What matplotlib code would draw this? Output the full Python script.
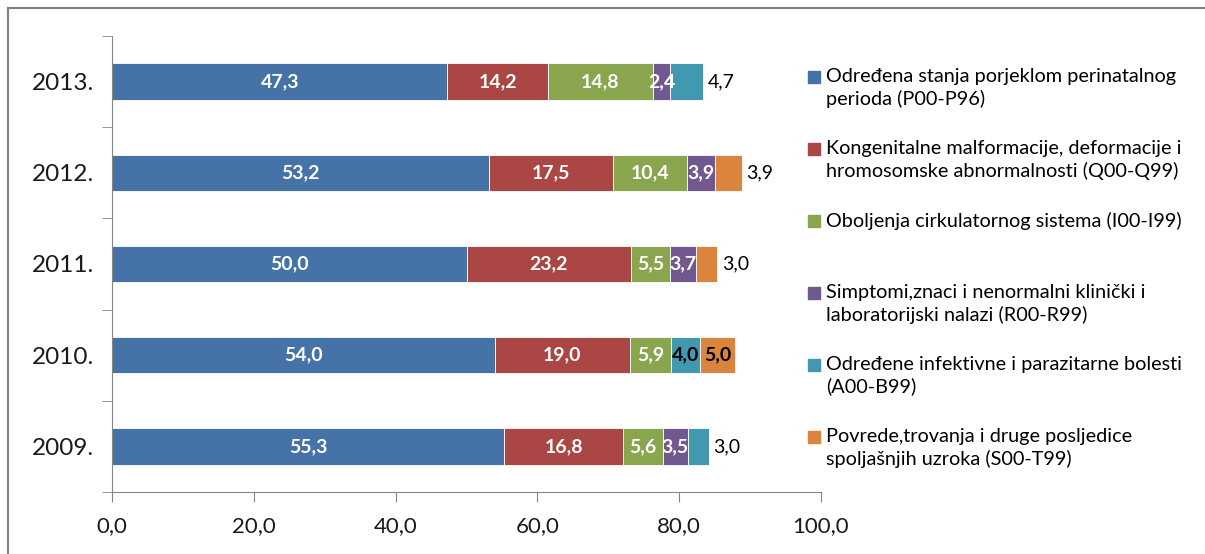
import matplotlib.pyplot as plt
from matplotlib.lines import Line2D
from matplotlib.patches import Rectangle
import numpy as np

years = ["2009.", "2010.", "2011.", "2012.", "2013."]
series_names = [
    "Određena stanja porjeklom perinatalnog\nperioda (P00-P96)",
    "Kongenitalne malformacije, deformacije i\nhromosomske abnormalnosti (Q00-Q99)",
    "Oboljenja cirkulatornog sistema (I00-I99)",
    "Simptomi,znaci i nenormalni klinički i\nlaboratorijski nalazi (R00-R99)",
    "Određene infektivne i parazitarne bolesti\n(A00-B99)",
    "Povrede,trovanja i druge posljedice\nspoljašnjih uzroka (S00-T99)",
]
# values per series, years ordered 2009..2013
perinatal = [55.3, 54.0, 50.0, 53.2, 47.3]
kongenitalne = [16.8, 19.0, 23.2, 17.5, 14.2]
cirkulatorni = [5.6, 5.9, 5.5, 10.4, 14.8]
simptomi = [3.5, 0.0, 3.7, 3.9, 2.4]
infektivne = [3.0, 4.0, 0.0, 0.0, 4.7]
povrede = [0.0, 5.0, 3.0, 3.9, 0.0]
x_ticks = [0, 20, 40, 60, 80, 100]

colors = ["#4572A7", "#AA4643", "#89A54E", "#71588F", "#4198AF", "#DB843D"]
# style: which labels sit outside the bar, which are drawn dark
outside = {(0, 4), (2, 5), (3, 5), (4, 4)}
dark_inside = {(1, 4), (1, 5)}

plt.rcParams["font.family"] = ["Lato", "DejaVu Sans"]

fig = plt.figure(figsize=(12.05, 5.54), dpi=100)
ax = fig.add_axes([112 / 1205, 1 - 492 / 554, (821 - 112) / 1205, (492 - 36) / 554])

data = [perinatal, kongenitalne, cirkulatorni, simptomi, infektivne, povrede]
y = np.arange(len(years))
left = np.zeros(len(years))
for s, vals in enumerate(data):
    vals = np.array(vals)
    ax.barh(y, vals, left=left, height=0.4, color=colors[s], edgecolor="white", linewidth=0.6)
    for i, v in enumerate(vals):
        if v <= 0:
            continue
        lbl = f"{v:.1f}".replace(".", ",")
        if (i, s) in outside:
            ax.annotate(lbl, (left[i] + v, y[i]), xytext=(3, 0), textcoords="offset points",
                        ha="left", va="center", fontsize=14, color="black")
        else:
            c = "black" if (i, s) in dark_inside else "white"
            ax.text(left[i] + v / 2, y[i], lbl, ha="center", va="center",
                    fontsize=14, color=c, fontweight="bold")
    left += vals

ax.set_xlim(0, 100)
ax.set_ylim(-0.5, len(years) - 0.5)
ax.set_xticks(x_ticks)
ax.set_xticklabels([f"{t:.1f}".replace(".", ",") for t in x_ticks], fontsize=16, color="#1a1a1a")
ax.set_yticks(y)
ax.set_yticklabels(years, fontsize=17.5, color="#1a1a1a")
ax.set_yticks(np.arange(-0.5, len(years)), minor=True)
ax.tick_params(axis="y", which="major", length=0, pad=13)
ax.tick_params(axis="y", which="minor", length=7, color="#868686")
ax.tick_params(axis="x", length=7, color="#868686", pad=10)
for side in ["top", "right"]:
    ax.spines[side].set_visible(False)
for side in ["left", "bottom"]:
    ax.spines[side].set_color("#868686")

# legend, drawn by hand so the markers line up with the first text line
lx, ly, dy = 808 / 1205, 1 - 77 / 554, 72 / 554
for s, name in enumerate(series_names):
    yy = ly - s * dy
    fig.add_artist(Rectangle((lx, yy - 6 / 554), 12 / 1205, 12 / 554, color=colors[s],
                             transform=fig.transFigure))
    fig.text(lx + 18 / 1205, yy + 9 / 554, name, ha="left", va="top", fontsize=14.3,
             color="black", linespacing=1.3)

# outer chart frame
fig.add_artist(Line2D([8 / 1205, 8 / 1205], [0, 1 - 8 / 554], color="#808080", lw=1.5))
fig.add_artist(Line2D([8 / 1205, 1], [1 - 8 / 554, 1 - 8 / 554], color="#808080", lw=1.5))

fig.savefig("out.png", dpi=100)
